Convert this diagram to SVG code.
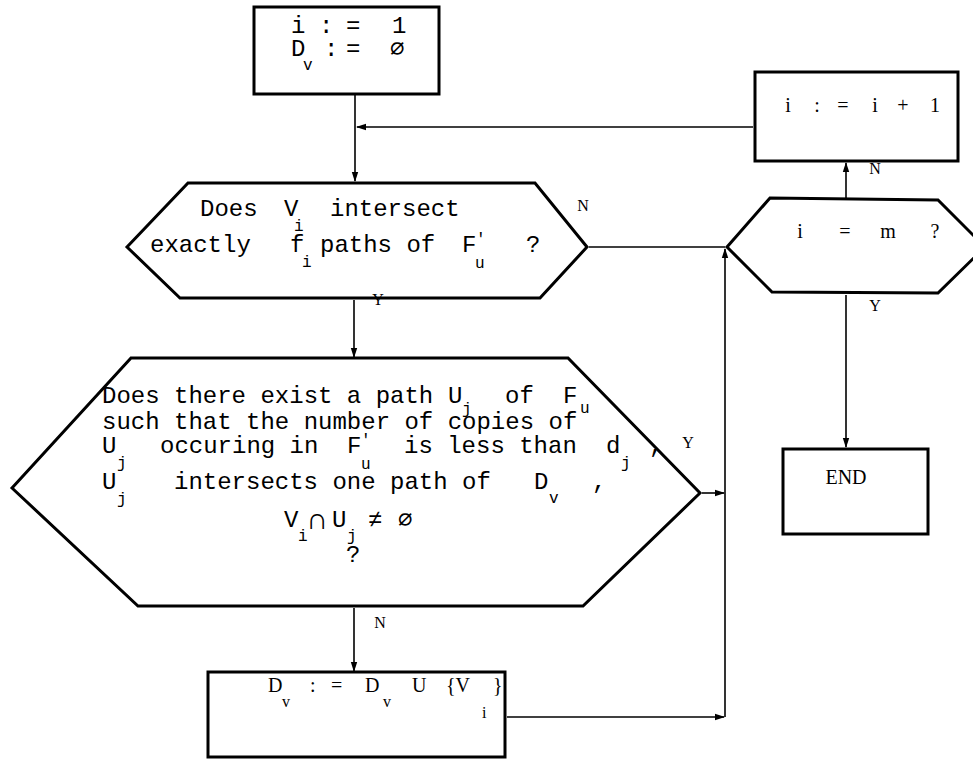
<svg xmlns="http://www.w3.org/2000/svg" width="973" height="761" viewBox="0 0 973 761">
<defs>
<marker id="ah" markerWidth="10" markerHeight="8" refX="9" refY="4" orient="auto" markerUnits="userSpaceOnUse">
<path d="M0,0.8 L10,4 L0,7.2 Z" fill="#000"/>
</marker>
<style>
.shape{fill:#fff;stroke:#000;stroke-width:3;stroke-linejoin:miter}
.conn{fill:none;stroke:#000;stroke-width:1.6}
.mono{font-family:"Liberation Mono","DejaVu Sans Mono",monospace;font-size:24px;fill:#000}
.serif{font-family:"Liberation Serif","DejaVu Serif",serif;font-size:20px;fill:#000}
.s{font-size:16px}
.lbl{font-family:"Liberation Serif","DejaVu Serif",serif;font-size:16px;fill:#000;text-anchor:middle}
</style>
</defs>
<rect width="973" height="761" fill="#fff"/>

<g id="init">
<rect class="shape" x="254" y="7" width="185" height="87"/>
<text class="mono" font-size="22"><tspan x="291" y="33">i</tspan><tspan x="319" y="33">:</tspan><tspan x="346" y="33">=</tspan><tspan x="392" y="33">1</tspan></text>
<text class="mono" font-size="22"><tspan x="291" y="56">D</tspan><tspan class="s" x="303" y="70">v</tspan><tspan x="324" y="56">:</tspan><tspan x="346" y="56">=</tspan><tspan x="390" y="56">∅</tspan></text>
</g>

<g id="test-intersect">
<polygon class="shape" points="127,247 188,183 535,183 587,247 540,298 180,298"/>
<text class="mono"><tspan x="200" y="216">Does</tspan><tspan x="284" y="216">V</tspan><tspan class="s" x="294" y="231">i</tspan><tspan x="330" y="216">intersect</tspan></text>
<text class="mono"><tspan x="150" y="252">exactly</tspan><tspan x="290" y="252">f</tspan><tspan class="s" x="302" y="267">i</tspan><tspan x="320" y="252">paths of</tspan><tspan x="462" y="252">F</tspan><tspan class="s" x="476" y="244">′</tspan><tspan class="s" x="475" y="268">u</tspan><tspan x="526" y="252">?</tspan></text>
</g>

<g id="test-exist">
<polygon class="shape" points="12,488 131,358 568,358 700,493 583,606 138,606"/>
<text class="mono"><tspan x="102" y="403">Does there exist a path</tspan><tspan x="448" y="403">U</tspan><tspan class="s" x="462" y="414">j</tspan><tspan x="505" y="403">of</tspan><tspan x="563" y="403">F</tspan><tspan class="s" x="580" y="413">u</tspan></text>
<text class="mono" x="102" y="429">such that the number of copies of</text>
<text class="mono"><tspan x="102" y="453">U</tspan><tspan class="s" x="117" y="468">j</tspan><tspan x="160" y="453">occuring in</tspan><tspan x="347" y="453">F</tspan><tspan class="s" x="361" y="445">′</tspan><tspan class="s" x="361" y="469">u</tspan><tspan x="404" y="453">is less than</tspan><tspan x="606" y="453">d</tspan><tspan class="s" x="621" y="468">j</tspan><tspan x="649" y="453">,</tspan></text>
<text class="mono"><tspan x="102" y="489">U</tspan><tspan class="s" x="117" y="504">j</tspan><tspan x="174" y="489">intersects one path of</tspan><tspan x="534" y="489">D</tspan><tspan class="s" x="549" y="503">v</tspan><tspan x="592" y="489">,</tspan></text>
<text class="mono"><tspan x="284" y="527">V</tspan><tspan class="s" x="298" y="541">i</tspan><tspan x="308" y="529" font-size="30">∩</tspan><tspan x="332" y="527">U</tspan><tspan class="s" x="347" y="541">j</tspan><tspan x="368" y="527">≠</tspan><tspan x="398" y="527">∅</tspan></text>
<text class="mono" x="346" y="562">?</text>
</g>

<g id="add-vi">
<rect class="shape" x="208" y="672" width="297" height="85"/>
<text class="serif"><tspan x="268" y="692">D</tspan><tspan class="s" x="282" y="707">v</tspan><tspan x="310" y="692">:</tspan><tspan x="331" y="692">=</tspan><tspan x="365" y="692">D</tspan><tspan class="s" x="383" y="707">v</tspan><tspan x="412" y="692">U</tspan><tspan x="446" y="692">{V</tspan><tspan class="s" x="482" y="718">i</tspan><tspan x="493" y="692">}</tspan></text>
</g>

<g id="test-end">
<polygon class="shape" points="727,247 770,198 938,200 985,247 938,293 772,292"/>
<text class="serif" text-anchor="middle"><tspan x="800" y="238">i</tspan><tspan x="845" y="238">=</tspan><tspan x="888" y="238">m</tspan><tspan x="935" y="238">?</tspan></text>
</g>

<g id="increment">
<rect class="shape" x="755" y="72" width="203" height="89"/>
<text class="serif" text-anchor="middle"><tspan x="788" y="112">i</tspan><tspan x="817" y="112">:</tspan><tspan x="843" y="112">=</tspan><tspan x="875" y="112">i</tspan><tspan x="903" y="112">+</tspan><tspan x="935" y="112">1</tspan></text>
</g>

<g id="end">
<rect class="shape" x="783" y="449" width="145" height="85"/>
<text class="serif" x="846" y="484" text-anchor="middle">END</text>
</g>

<g id="connectors">
<path class="conn" d="M355,95 V181" marker-end="url(#ah)"/>
<path class="conn" d="M753,127 H357" marker-end="url(#ah)"/>
<path class="conn" d="M589,247 H725"/>
<path class="conn" d="M725,717 V249" marker-end="url(#ah)"/>
<path class="conn" d="M702,493 H724" marker-end="url(#ah)"/>
<path class="conn" d="M507,717 H724" marker-end="url(#ah)"/>
<path class="conn" d="M354,300 V357" marker-end="url(#ah)"/>
<path class="conn" d="M354,608 V671" marker-end="url(#ah)"/>
<path class="conn" d="M846,198 V163" marker-end="url(#ah)"/>
<path class="conn" d="M846,295 V447" marker-end="url(#ah)"/>
<text class="lbl" x="583" y="211">N</text>
<text class="lbl" x="378" y="305">Y</text>
<text class="lbl" x="688" y="448">Y</text>
<text class="lbl" x="380" y="628">N</text>
<text class="lbl" x="875" y="174">N</text>
<text class="lbl" x="875" y="311">Y</text>
</g>
</svg>
